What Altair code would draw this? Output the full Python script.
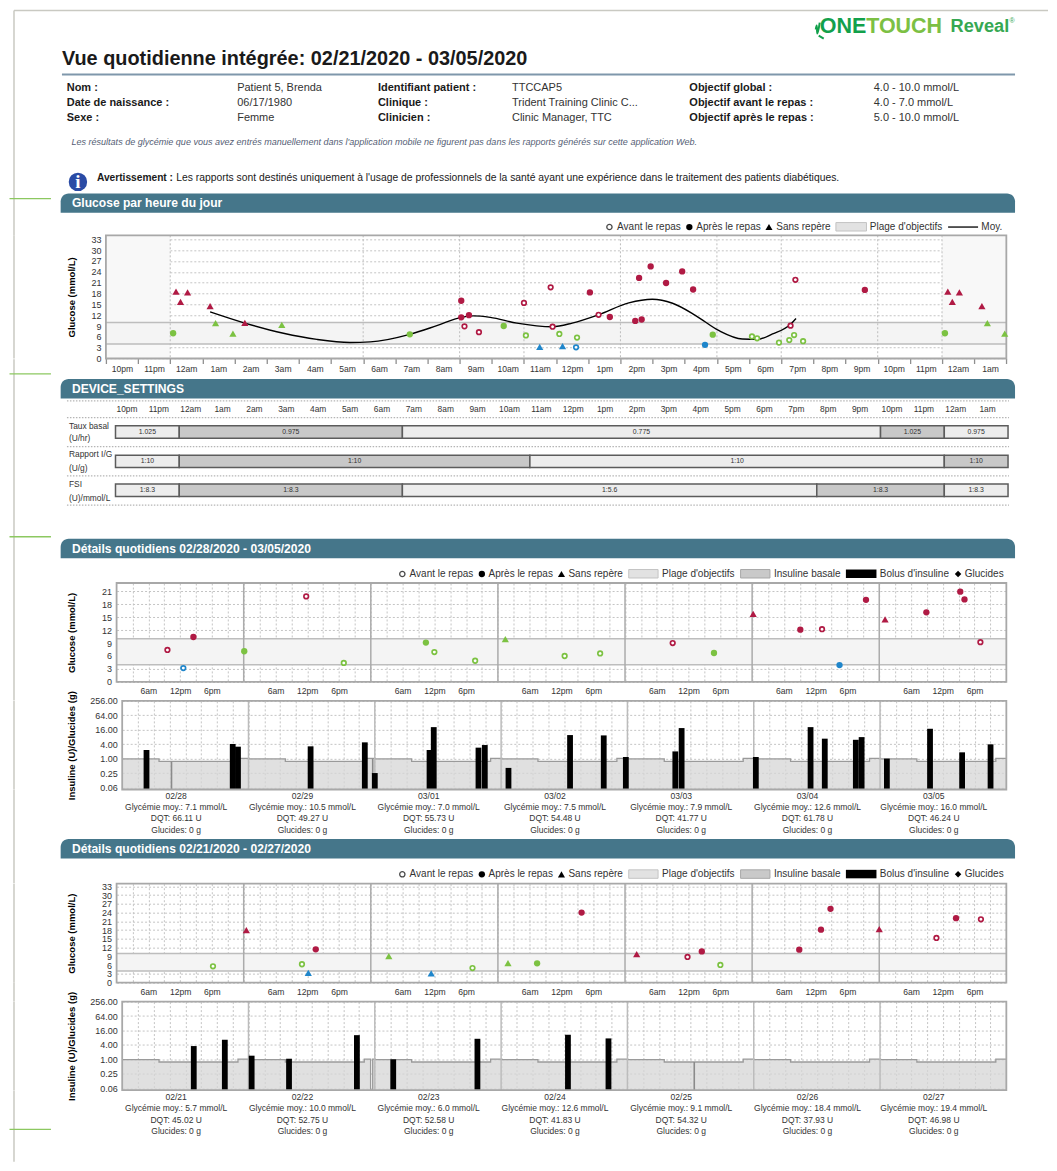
import altair as alt
import pandas as pd

FONT = "Liberation Sans"
INK = "#333333"
W = 1041
COLORS = {"r": "#b01a44", "g": "#7cc242", "b": "#1f86cb"}
BAR = "#45768a"
GRID = "#c4c4c4"
FRAME = "#a8a8a8"

# ---------- hourly overview (hour index from 10pm, mmol/L, code = colour + kind) ----------
hourly_hours = [2.18, 2.32, 2.54, 3.24, 4.32, 3.41, 3.95, 5.47, 2.09, 9.45, 12.37, 11.05, 11.05, 11.29,
                11.15, 11.6, 13.0, 13.83, 13.89, 13.06, 14.1, 13.49, 14.2, 15.32, 21.29, 21.44, 15.05,
                15.67, 16.46, 16.66, 16.58, 16.94, 17.42, 17.92, 18.26, 23.6, 18.87, 18.63, 14.65,
                20.09, 20.25, 20.93, 21.25, 21.4, 21.68, 14.62]
hourly_values = [18.5, 15.7, 18.3, 14.5, 9.9, 9.8, 6.9, 9.3, 7.0, 6.7, 9.0, 16.0, 11.4, 12.0,
                 8.9, 7.3, 15.4, 19.7, 8.8, 6.4, 6.8, 3.2, 3.4, 12.1, 9.1, 21.8, 18.3,
                 11.5, 10.4, 10.8, 22.3, 25.5, 20.9, 24.1, 19.1, 19.0, 6.6, 3.8, 5.8,
                 6.1, 5.6, 4.4, 5.1, 6.5, 4.8, 3.1]
hourly_codes = ["rt", "rt", "rt", "rt", "rt", "gt", "gt", "gt", "gf", "gf", "gf", "rf", "rf", "rf",
                "ro", "ro", "ro", "ro", "ro", "go", "go", "bt", "bt", "ro", "ro", "ro", "rf",
                "rf", "rf", "rf", "rf", "rf", "rf", "rf", "rf", "rf", "gf", "bf", "go",
                "go", "go", "go", "go", "go", "go", "bo"]
mean_hours = [3.24, 4.32, 5.52, 6.56, 7.59, 8.22, 9.45, 10.29, 11.05, 11.43, 11.95, 12.78, 13.89, 14.5,
              15.32, 16.26, 16.99, 17.62, 18.34, 19.07, 19.79, 20.25, 20.73, 21.29, 21.46]
mean_values = [12.9, 9.8, 7.0, 5.3, 4.45, 4.6, 6.7, 9.1, 11.4, 11.8, 11.4, 9.8, 8.8, 9.8,
               12.1, 15.4, 16.4, 15.3, 11.9, 7.7, 5.4, 5.3, 6.8, 9.5, 11.1]
hour_labels = ["10pm", "11pm", "12am", "1am", "2am", "3am", "4am", "5am", "6am", "7am", "8am", "9am", "10am",
               "11am", "12pm", "1pm", "2pm", "3pm", "4pm", "5pm", "6pm", "7pm", "8pm", "9pm", "10pm", "11pm",
               "12am", "1am"]
period_hours = [2, 8, 11, 13, 16, 19, 21, 24, 26]

# ---------- device settings (start hour, end hour, label, dark) ----------
basal_segments = [(0, 2, "1.025", 0), (2, 9, "0.975", 1), (9, 24, "0.775", 0), (24, 26, "1.025", 1), (26, 28, "0.975", 0)]
ratio_segments = [(0, 2, "1:10", 0), (2, 13, "1:10", 1), (13, 26, "1:10", 0), (26, 28, "1:10", 1)]
isf_segments = [(0, 2, "1:8.3", 0), (2, 9, "1:8.3", 1), (9, 22, "1:5.6", 0), (22, 26, "1:8.3", 1), (26, 28, "1:8.3", 0)]

# ---------- week 02/28 - 03/05 ----------
w1_hours = [9.6, 14.5, 12.6, 24.1, 35.8, 42.9, 58.4, 60.0, 67.7, 73.4, 84.6, 91.3, 105.0, 112.8, 120.2,
            129.1, 133.2, 136.5, 141.5, 145.1, 152.9, 159.3, 160.1, 163.1]
w1_values = [7.4, 10.4, 3.2, 7.1, 19.8, 4.4, 9.1, 6.9, 4.9, 9.9, 6.0, 6.6, 9.0, 6.7, 15.75,
             12.1, 12.2, 3.9, 19.0, 14.5, 16.1, 20.9, 19.1, 9.2]
w1_codes = ["ro", "rf", "bo", "gf", "ro", "go", "gf", "go", "go", "gt", "go", "go", "ro", "gf", "rt",
            "rf", "ro", "bf", "rf", "rt", "rf", "rf", "rf", "ro"]
w1_bolus_hours = [4.62, 21.0, 22.0, 35.8, 46.1, 48.0, 58.4, 59.2, 67.7, 68.9, 73.4, 85.1, 91.5, 95.7, 105.1,
                  106.3, 120.4, 130.8, 133.5, 139.4, 140.5, 145.3, 153.5, 159.6, 165.0]
w1_bolus_units = [2.29, 4.07, 3.15, 3.25, 4.77, 0.25, 2.29, 20.6, 2.87, 3.69, 0.41, 9.6, 9.3, 1.17, 2.0,
                  18.8, 1.17, 20.6, 6.8, 6.1, 7.9, 1.0, 17.6, 1.83, 3.94]
w1_thin_hours = [9.37, 47.6]
w1_thin_units = [0.75, 1.0]
w1_dates = ["02/28", "02/29", "03/01", "03/02", "03/03", "03/04", "03/05"]
w1_avg = ["7.1", "10.5", "7.0", "7.5", "7.9", "12.6", "16.0"]
w1_tdd = ["66.11", "49.27", "55.73", "54.48", "41.77", "61.78", "46.24"]

# ---------- week 02/21 - 02/27 ----------
w2_hours = [18.2, 24.5, 35.0, 37.6, 36.2, 51.4, 59.4, 67.2, 73.9, 79.4, 87.8, 98.2, 107.8, 110.5, 114.0,
            128.9, 133.0, 134.8, 144.0, 154.8, 158.5, 163.2]
w2_values = [5.6, 18.0, 6.3, 11.4, 3.3, 9.1, 3.2, 5.0, 6.7, 6.6, 24.0, 9.8, 8.8, 10.7, 6.05,
             11.3, 18.15, 25.3, 18.3, 15.3, 22.1, 21.7]
w2_codes = ["go", "rt", "go", "rf", "bt", "gt", "bt", "go", "gt", "gf", "rf", "rt", "ro", "rf", "go",
            "rf", "rf", "rf", "rt", "ro", "rf", "ro"]
w2_bolus_hours = [13.6, 19.5, 24.6, 31.7, 44.6, 51.5, 67.5, 84.7, 92.4]
w2_bolus_units = [3.58, 6.56, 1.42, 1.06, 10.2, 1.0, 7.2, 10.6, 7.46]
w2_thin_hours = [108.7]
w2_thin_units = [0.775]
w2_dates = ["02/21", "02/22", "02/23", "02/24", "02/25", "02/26", "02/27"]
w2_avg = ["5.7", "10.0", "6.0", "12.6", "9.1", "18.4", "19.4"]
w2_tdd = ["45.02", "52.75", "52.58", "41.83", "54.32", "37.93", "46.98"]

basal_starts = [0, 7, 22]
basal_rates = [0.975, 0.775, 1.025]
insulin_ticks = [0.0625, 0.25, 1, 4, 16, 64, 256]
INS_MIN = 0.0515
MANY = 500

NX = alt.X("x:Q", scale=None, axis=None)
NY = alt.Y("y:Q", scale=None, axis=None)


def T(top, rows, size=10, color=INK, weight="normal", align="left", style="normal", font=FONT):
    df = pd.DataFrame({"x": [r[0] - 8 for r in rows], "y": [r[1] - top for r in rows], "t": [r[2] for r in rows]})
    return alt.Chart(df).mark_text(fontSize=size, color=color, fontWeight=weight, fontStyle=style, align=align,
                                   baseline="middle", font=font).encode(x=NX, y=NY, text="t:N")


def R(top, x1, y1, x2, y2, **mark):
    df = pd.DataFrame({"x": [x1 - 8], "x2": [x2 - 8], "y": [y1 - top], "y2": [y2 - top]})
    return alt.Chart(df).mark_rect(**mark).encode(x=NX, x2="x2:Q", y=NY, y2="y2:Q")


def HL(top, x1, x2, y, **mark):
    df = pd.DataFrame({"x": [x1 - 8], "x2": [x2 - 8], "y": [y - top]})
    return alt.Chart(df).mark_rule(**mark).encode(x=NX, x2="x2:Q", y=NY)


def S(top, x, y, **mark):
    df = pd.DataFrame({"x": [x - 8], "y": [y - top]})
    return alt.Chart(df).mark_point(**mark).encode(x=NX, y=NY)


def PATH(top, xs, ys, **mark):
    df = pd.DataFrame({"x": [v - 8 for v in xs], "y": [v - top for v in ys]})
    return alt.Chart(df).mark_line(**mark).encode(x=NX, y=NY)


def border(H, y0=0):
    return alt.Chart(pd.DataFrame({"a": [0]})).mark_rule(color="#c9c9c2", strokeWidth=1.5).encode(
        x=alt.value(6), y=alt.value(y0), y2=alt.value(H))


def section(top, y, label):
    return [R(top, 60.7, y, 1016, y + 19.5, fill=BAR, cornerRadiusTopLeft=8, cornerRadiusTopRight=8),
            T(top, [(72, y + 10, label)], size=12.1, color="#ffffff", weight="bold")]


def tick(top, y):
    return HL(top, 9.5, 51, y, color="#8cc860", strokeWidth=1.3)


def legend(top, y, full):
    black = "#000000"
    if full:
        rows = [(617.7, y, "Avant le repas"), (697, y, "Après le repas"), (777, y, "Sans repère"),
                (870.7, y, "Plage d'objectifs"), (982.3, y, "Moy.")]
        marks = [S(top, 610, y, shape="circle", size=28, filled=False, fill="#ffffff", color=black, strokeWidth=1.3),
                 S(top, 690, y, shape="circle", size=40, filled=True, color=black, opacity=1),
                 S(top, 769.7, y, shape="triangle-up", size=50, filled=True, color=black, opacity=1),
                 R(top, 836.7, y - 4.5, 867.3, y + 4, fill="#e2e2e2", stroke="#c4c4c4", strokeWidth=1),
                 HL(top, 949, 979, y, color=black, strokeWidth=1.3)]
    else:
        rows = [(410, y, "Avant le repas"), (489, y, "Après le repas"), (569, y, "Sans repère"),
                (662.7, y, "Plage d'objectifs"), (774.7, y, "Insuline basale"),
                (880.7, y, "Bolus d'insuline"), (965.7, y, "Glucides")]
        marks = [S(top, 402.7, y, shape="circle", size=28, filled=False, fill="#ffffff", color=black, strokeWidth=1.3),
                 S(top, 482.3, y, shape="circle", size=40, filled=True, color=black, opacity=1),
                 S(top, 562, y, shape="triangle-up", size=50, filled=True, color=black, opacity=1),
                 R(top, 629.3, y - 4.5, 658.7, y + 4, fill="#e2e2e2", stroke="#c4c4c4", strokeWidth=1),
                 R(top, 741.3, y - 4.5, 770.7, y + 4, fill="#c9c9c9", stroke="#a8a8a8", strokeWidth=1),
                 R(top, 846.7, y - 4.5, 877.3, y + 4, fill="#000000"),
                 S(top, 959, y, shape="diamond", size=42, filled=True, color=black, opacity=1)]
    return marks + [T(top, rows, size=10)]


def glucose_frame(hours, values, codes):
    df = pd.DataFrame({"h": hours, "v": values, "code": codes})
    df["colour"] = df["code"].str[0]
    df["kind"] = df["code"].str[1]
    return df


def glucose_points(df, sx, sy):
    colour = alt.Color("colour:N", scale=alt.Scale(domain=list(COLORS), range=list(COLORS.values())), legend=None)
    enc = dict(x=alt.X("h:Q", scale=sx), y=alt.Y("v:Q", scale=sy), color=colour)
    return [
        alt.Chart(df[df.kind == "o"]).mark_point(shape="circle", size=21, filled=False, fill="#ffffff",
                                                 strokeWidth=1.7, opacity=1).encode(**enc),
        alt.Chart(df[df.kind == "f"]).mark_point(shape="circle", size=40, filled=True, opacity=1).encode(**enc),
        alt.Chart(df[df.kind == "t"]).mark_point(shape="triangle-up", size=52, filled=True, opacity=1).encode(**enc),
    ]


def band_layers(sx, sy, xmax, xaxis, yaxis):
    band = pd.DataFrame({"a": [0], "b": [xmax], "lo": [4], "hi": [10]})
    lines = pd.DataFrame({"a": [0, 0], "b": [xmax, xmax], "v": [4, 10]})
    return [
        alt.Chart(band).mark_rect(fill="#f4f4f4").encode(
            x=alt.X("a:Q", scale=sx, axis=xaxis), x2="b:Q",
            y=alt.Y("lo:Q", scale=sy, axis=yaxis), y2="hi:Q"),
        alt.Chart(lines).mark_rule(color="#bdbdbd", strokeWidth=1.5).encode(
            x=alt.X("a:Q", scale=sx), x2="b:Q", y=alt.Y("v:Q", scale=sy)),
    ]


def frame(sx, sy, xmax, ymin, ymax):
    df = pd.DataFrame({"a": [0], "b": [xmax], "lo": [ymin], "hi": [ymax]})
    return alt.Chart(df).mark_rect(fill="transparent", stroke=FRAME, strokeWidth=1.8).encode(
        x=alt.X("a:Q", scale=sx), x2="b:Q", y=alt.Y("lo:Q", scale=sy), y2="hi:Q")


def day_rules(sx, color="#ababab"):
    df = pd.DataFrame({"d": [24, 48, 72, 96, 120, 144]})
    return alt.Chart(df).mark_rule(color=color, strokeWidth=1.5).encode(x=alt.X("d:Q", scale=sx))


def daily_glucose(df, ymax, ticks, left_offset, H):
    sx = alt.Scale(domain=[0, 168], range=[116.7 - 8, 1007.3 - 8], nice=False, zero=False)
    sy = alt.Scale(domain=[0, ymax], nice=False, zero=False)
    xaxis = alt.Axis(values=list(range(3, 168, 3)), tickCount=MANY, title=None, grid=True, gridColor=GRID,
                     gridDash=[2, 2], domain=False, ticks=False, labelPadding=5, labelFontSize=8.6, labelColor=INK,
                     labelOverlap=False, labelFlush=False, labelBound=False,
                     labelExpr="{'6':'6am','12':'12pm','18':'6pm'}[''+(datum.value%24)] || ''")
    yaxis = alt.Axis(values=ticks, tickCount=MANY, title="Glucose (mmol/L)", offset=-left_offset, grid=True,
                     gridColor=GRID, gridDash=[2, 2], domain=False, ticks=False, labelPadding=5, labelFontSize=9,
                     labelOverlap=False, labelColor=INK, format="d", titleFontSize=9.5, titleFontWeight="bold",
                     titleColor="#000000", titlePadding=25)
    layers = band_layers(sx, sy, 168, xaxis, yaxis)
    layers += [day_rules(sx), frame(sx, sy, 168, 0, ymax), border(H)]
    layers += glucose_points(df, sx, sy)
    return alt.layer(*layers).properties(width=W, height=H)


def basal_frame(gap):
    rows = []
    for day in range(7):
        for s, r in zip(basal_starts, basal_rates):
            rows.append((day * 24 + s, r))
    rows.append((168, 0.975))
    if gap:
        rows += [(gap[0], INS_MIN), (gap[1], 1.025)]
        rows.sort()
    df = pd.DataFrame(rows, columns=["h", "rate"])
    df["base"] = INS_MIN
    return df


def insulin(bh, bu, th, tu, left_offset, H, gap=None):
    sx = alt.Scale(domain=[0, 168], range=[122.3 - 8, 1007.3 - 8], nice=False, zero=False, padding=0)
    sy = alt.Scale(type="log", base=4, domain=[INS_MIN, 256], nice=False, zero=False)
    xaxis = alt.Axis(values=list(range(3, 168, 3)), tickCount=MANY, title=None, grid=True, gridColor=GRID,
                     gridDash=[2, 2], domain=False, ticks=False, labels=False)
    yaxis = alt.Axis(values=insulin_ticks, tickCount=MANY, title="Insuline (U)/Glucides (g)", offset=-left_offset,
                     grid=True, gridColor=GRID, gridDash=[2, 2], domain=False, ticks=False, labelPadding=5,
                     labelFontSize=9, labelOverlap=False, labelColor=INK, format=".2f", titleFontSize=9.5,
                     titleFontWeight="bold", titleColor="#000000", titlePadding=13)
    frame_df = pd.DataFrame({"a": [0], "b": [168], "lo": [INS_MIN], "hi": [256]})
    basal = basal_frame(gap)
    xe = alt.X("h:Q", scale=sx)
    ye = alt.Y("rate:Q", scale=sy)
    bars = pd.DataFrame({"h": bh, "u": bu, "base": INS_MIN})
    thin = pd.DataFrame({"h": th, "u": tu, "base": INS_MIN})
    layers = [
        alt.Chart(frame_df).mark_rect(fill="transparent").encode(
            x=alt.X("a:Q", scale=sx, axis=xaxis), x2="b:Q", y=alt.Y("lo:Q", scale=sy, axis=yaxis), y2="hi:Q"),
        alt.Chart(basal).mark_area(interpolate="step-after", color="#d6d6d6", opacity=0.75).encode(
            x=xe, y=ye, y2="base:Q"),
        alt.Chart(basal).mark_line(interpolate="step-after", color="#9a9a9a", strokeWidth=1.3).encode(x=xe, y=ye),
        day_rules(sx, "#bcbcbc"),
        alt.Chart(thin).mark_rule(color="#8a8a8a", strokeWidth=1.6).encode(
            x=xe, y=alt.Y("u:Q", scale=sy), y2="base:Q"),
        alt.Chart(bars).mark_bar(width=5.8, color="#000000").encode(
            x=xe, y=alt.Y("u:Q", scale=sy), y2="base:Q"),
        frame(sx, sy, 168, INS_MIN, 256),
        border(H),
    ]
    return alt.layer(*layers).properties(width=W, height=H)


def summaries(top, ys, dates, avg, tdd):
    out = []
    xs = [176.3 + 126.4 * i for i in range(7)]
    out.append(T(top, [(x, ys[0], d) for x, d in zip(xs, dates)], size=8.6, align="center"))
    out.append(T(top, [(x, ys[1], f"Glycémie moy.: {a} mmol/L") for x, a in zip(xs, avg)], size=8.5, align="center"))
    out.append(T(top, [(x, ys[2], f"DQT: {t} U") for x, t in zip(xs, tdd)], size=8.5, align="center"))
    out.append(T(top, [(x, ys[3], "Glucides: 0 g") for x in xs], size=8.5, align="center"))
    return out


def spacer(H):
    return alt.layer(border(H)).properties(width=W, height=H)


# ---------- panel 0: page header ----------
top = 8
H0 = 227
header = [
    border(H0, y0=2),
    HL(top, 14, 1049, 10, color="#c9c9c2", strokeWidth=1.5),
    tick(top, 198.3),
    PATH(top, [820.5, 817.5, 816.5, 818], [22, 25, 29, 33], color="#12a04b", strokeWidth=2, interpolate="monotone"),
    PATH(top, [819.5, 824.5], [35, 38], color="#12a04b", strokeWidth=2),
    T(top, [(820.5, 26, "ONE")], size=21.5, color="#12a04b", weight="bold"),
    T(top, [(867, 26, "TOUCH")], size=21.5, color="#7cc043", weight="bold"),
    T(top, [(951.5, 26.5, "Reveal")], size=18.2, color="#36a852", weight="bold"),
    T(top, [(1010.5, 20, "®")], size=7, color="#36a852"),
    T(top, [(62, 58, "Vue quotidienne intégrée: 02/21/2020 - 03/05/2020")], size=19.9, color="#1a1a1a", weight="bold"),
    HL(top, 62, 1016, 74, color="#7f97ab", strokeWidth=2),
    T(top, [(66.8, 88, "Nom :"), (66.8, 103, "Date de naissance :"), (66.8, 118, "Sexe :"),
            (378.3, 88, "Identifiant patient :"), (378.3, 103, "Clinique :"), (378.3, 118, "Clinicien :"),
            (690, 88, "Objectif global :"), (690, 103, "Objectif avant le repas :"),
            (690, 118, "Objectif après le repas :")], size=11, color="#1a1a1a", weight="bold"),
    T(top, [(237.4, 88, "Patient 5, Brenda"), (237.4, 103, "06/17/1980"), (237.4, 118, "Femme"),
            (512.5, 88, "TTCCAP5"), (512.5, 103, "Trident Training Clinic C..."), (512.5, 118, "Clinic Manager, TTC"),
            (874.6, 88, "4.0 - 10.0 mmol/L"), (874.6, 103, "4.0 - 7.0 mmol/L"), (874.6, 118, "5.0 - 10.0 mmol/L")],
      size=11),
    T(top, [(71.5, 142, "Les résultats de glycémie que vous avez entrés manuellement dans l'application mobile ne figurent pas dans les rapports générés sur cette application Web.")],
      size=9.05, color="#555e75", style="italic"),
    S(top, 78, 181.5, shape="circle", size=340, filled=True, color="#2a4ba5", opacity=1),
    T(top, [(78, 181.5, "i")], size=19, color="#ffffff", weight="bold", align="center", font="Liberation Serif"),
    T(top, [(97, 178, "Avertissement :")], size=10.2, color="#1a1a1a", weight="bold"),
    T(top, [(176.5, 178, "Les rapports sont destinés uniquement à l'usage de professionnels de la santé ayant une expérience dans le traitement des patients diabétiques.")],
      size=10.35, color="#1a1a1a"),
] + section(top, 193, "Glucose par heure du jour") + legend(top, 226.7, True)
panel0 = alt.layer(*header).properties(width=W, height=H0)

# ---------- panel 1: hourly glucose ----------
H1 = 123.3
sx1 = alt.Scale(domain=[0, 28], range=[106 - 8, 1007.3 - 8], nice=False, zero=False)
sy1 = alt.Scale(domain=[0, 34.1], nice=False, zero=False)
xaxis1 = alt.Axis(values=list(range(0, 29)), tickCount=MANY, title=None, grid=False, domain=False, ticks=True,
                  tickColor="#8f8f8f", tickSize=5, tickWidth=1.3, labelOffset=16, labelPadding=1, labelFontSize=8.6,
                  labelColor=INK, labelOverlap=False, labelFlush=False, labelBound=False,
                  labelExpr=str(hour_labels) + "[datum.value] || ''")
yaxis1 = alt.Axis(values=list(range(0, 34, 3)), tickCount=MANY, title="Glucose (mmol/L)", offset=-98, grid=True,
                  gridColor=GRID, gridDash=[2, 2], domain=False, ticks=False, labelPadding=5, labelFontSize=9,
                  labelColor=INK, labelOverlap=False, format="d", titleFontSize=9.5, titleFontWeight="bold",
                  titleColor="#000000", titlePadding=14)
sides = pd.DataFrame({"a": [0, 26], "b": [2, 28], "lo": [0, 0], "hi": [34.1, 34.1]})
wrapped = [(h + 24, v, c) for h, v, c in zip(hourly_hours, hourly_values, hourly_codes) if h < 4]
hourly_df = glucose_frame(hourly_hours + [w[0] for w in wrapped], hourly_values + [w[1] for w in wrapped],
                          hourly_codes + [w[2] for w in wrapped])
layers1 = [
    alt.Chart(sides).mark_rect(fill="#f8f8f8").encode(
        x=alt.X("a:Q", scale=sx1), x2="b:Q", y=alt.Y("lo:Q", scale=sy1), y2="hi:Q"),
] + band_layers(sx1, sy1, 28, xaxis1, yaxis1) + [
    alt.Chart(pd.DataFrame({"h": period_hours})).mark_rule(color="#bdbdbd", strokeDash=[2, 2], strokeWidth=1).encode(
        x=alt.X("h:Q", scale=sx1)),
    frame(sx1, sy1, 28, 0, 34.1),
    border(H1),
    alt.Chart(pd.DataFrame({"h": mean_hours, "v": mean_values})).mark_line(
        color="#000000", strokeWidth=1.4, interpolate="monotone").encode(
        x=alt.X("h:Q", scale=sx1), y=alt.Y("v:Q", scale=sy1)),
] + glucose_points(hourly_df, sx1, sy1)
panel1 = alt.layer(*layers1).properties(width=W, height=H1)

# ---------- panel 2: device settings ----------
top = 358.3
H2 = 224
sx2 = alt.Scale(domain=[0, 28], range=[115.6 - 8, 1009 - 8], nice=False, zero=False)


def setting_row(segments, y1, y2):
    df = pd.DataFrame(segments, columns=["a", "b", "label", "dark"])
    df["mid"] = (df["a"] + df["b"]) / 2
    return [
        alt.Chart(df).mark_rect(stroke="#5c5c5c", strokeWidth=1.5).encode(
            x=alt.X("a:Q", scale=sx2, axis=None), x2="b:Q", y=alt.value(y1 - top), y2=alt.value(y2 - top),
            fill=alt.Fill("dark:N", scale=alt.Scale(domain=[0, 1], range=["#ededed", "#c8c8c8"]), legend=None)),
        alt.Chart(df).mark_text(fontSize=6.9, color=INK, font=FONT, baseline="middle").encode(
            x=alt.X("mid:Q", scale=sx2, axis=None), y=alt.value((y1 + y2) / 2 - top), text="label:N"),
    ]


label_df = pd.DataFrame({"h": [i + 0.5 for i in range(28)], "label": hour_labels})
layers2 = [border(H2), tick(top, 373), tick(top, 536)] + section(top, 378, "DEVICE_SETTINGS")
layers2 += [HL(top, 67, 1010, y, color="#b5b5b5", strokeDash=[1.5, 1.5], strokeWidth=1.2) for y in (400, 416.7, 445.7, 475, 504.3)]
layers2 += [alt.Chart(label_df).mark_text(fontSize=8.4, color=INK, font=FONT, baseline="middle", dx=-4.5).encode(
    x=alt.X("h:Q", scale=sx2, axis=None), y=alt.value(408.3 - top), text="label:N")]
layers2 += setting_row(basal_segments, 425, 437.3)
layers2 += setting_row(ratio_segments, 454.3, 466.7)
layers2 += setting_row(isf_segments, 483.3, 495.7)
layers2 += [T(top, [(69, 425, "Taux basal"), (69, 437.5, "(U/hr)"), (69, 453.5, "Rapport I/G"), (69, 467, "(U/g)"),
                    (69, 483, "FSI"), (69, 497, "(U)/mmol/L")], size=8.4)]
layers2 += section(top, 538, "Détails quotidiens 02/28/2020 - 03/05/2020") + legend(top, 573.3, False)
panel2 = alt.layer(*layers2).properties(width=W, height=H2)

# ---------- week panels ----------
panel3 = daily_glucose(glucose_frame(w1_hours, w1_values, w1_codes), 22.9, list(range(0, 22, 3)), 108.7, 99)
panel5 = insulin(w1_bolus_hours, w1_bolus_units, w1_thin_hours, w1_thin_units, 114.3, 88.7)

top = 788.7
H6 = 93.6
panel6 = alt.layer(*([border(H6)] + summaries(top, (795, 806, 817, 829), w1_dates, w1_avg, w1_tdd)
                     + section(top, 838, "Détails quotidiens 02/21/2020 - 02/27/2020") + legend(top, 873.3, False))
                   ).properties(width=W, height=H6)

panel7 = daily_glucose(glucose_frame(w2_hours, w2_values, w2_codes), 33.9, list(range(0, 34, 3)), 108.7, 99)
panel8 = insulin(w2_bolus_hours, w2_bolus_units, w2_thin_hours, w2_thin_units, 114.3, 88.7, gap=(47.2, 47.6))

top = 1088.7
H9 = 71.3
panel9 = alt.layer(*([border(H9), tick(top, 1127.5)] + summaries(top, (1095, 1106, 1118, 1129), w2_dates, w2_avg, w2_tdd))
                   ).properties(width=W, height=H9)

chart = alt.vconcat(panel0, panel1, panel2, panel3, spacer(18.7), panel5, panel6, panel7, spacer(18.7), panel8, panel9,
                    spacing=0, bounds="flush").properties(padding=0).resolve_scale(
    x="independent", y="independent", color="independent").configure_view(stroke=None).configure_axis(
    labelFont=FONT, titleFont=FONT, labelOverlap=False).configure_text(font=FONT)

chart.save("out.html", embed_options={"renderer": "svg", "actions": False})
